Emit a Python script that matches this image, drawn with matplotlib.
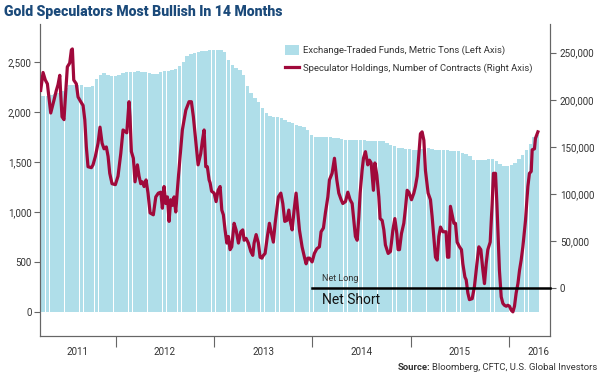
import matplotlib
matplotlib.use('Agg')
import matplotlib.pyplot as plt
from matplotlib.patches import Patch
from matplotlib.lines import Line2D
from matplotlib.ticker import FuncFormatter

# ETF holdings (metric tons), bi-weekly from late March 2011
etf_start = 2011.231
etf_step = 14 / 365.25
etf_tons = [
    2156, 2156, 2165, 2173, 2180, 2195, 2215, 2245, 2268, 2273,
    2273, 2272, 2255, 2252, 2262, 2330, 2370, 2390, 2370, 2356,
    2356, 2375, 2394, 2398, 2402, 2405, 2406, 2400, 2396, 2390,
    2382, 2385, 2398, 2406, 2412, 2420, 2430, 2465, 2505, 2560,
    2578, 2592, 2600, 2608, 2614, 2620, 2623, 2620, 2618, 2600,
    2520, 2470, 2445, 2420, 2370, 2265, 2190, 2142, 2105, 2040,
    1990, 1965, 1952, 1950, 1945, 1925, 1905, 1890, 1875, 1862,
    1848, 1820, 1772, 1752, 1750, 1750, 1750, 1748, 1742, 1736,
    1728, 1723, 1723, 1723, 1723, 1723, 1720, 1712, 1707, 1706,
    1706, 1706, 1695, 1675, 1658, 1642, 1637, 1632, 1628, 1625,
    1624, 1628, 1634, 1640, 1628, 1616, 1616, 1616, 1616, 1613,
    1610, 1606, 1595, 1582, 1565, 1523, 1523, 1523, 1523, 1526,
    1529, 1515, 1485, 1465, 1458, 1468, 1490, 1535, 1575, 1620,
    1685, 1750, 1773,
]
etf_years = [etf_start + i * etf_step for i in range(len(etf_tons))]

# Speculator net holdings (thousand contracts)
spec_years = [
    2011.238, 2011.262, 2011.285, 2011.306, 2011.340, 2011.374, 2011.397, 2011.414, 2011.432, 2011.442,
    2011.455, 2011.475, 2011.489, 2011.509, 2011.533, 2011.550, 2011.560, 2011.574, 2011.600, 2011.618,
    2011.645, 2011.669, 2011.686, 2011.702, 2011.719, 2011.753, 2011.770, 2011.794, 2011.821, 2011.841,
    2011.862, 2011.882, 2011.905, 2011.923, 2011.940, 2011.963, 2011.997, 2012.024, 2012.052, 2012.075,
    2012.113, 2012.136, 2012.146, 2012.160, 2012.180, 2012.197, 2012.221, 2012.238, 2012.255, 2012.271,
    2012.289, 2012.309, 2012.329, 2012.350, 2012.383, 2012.408, 2012.434, 2012.459, 2012.475, 2012.492,
    2012.509, 2012.526, 2012.543, 2012.560, 2012.577, 2012.594, 2012.611, 2012.627, 2012.655, 2012.678,
    2012.713, 2012.746, 2012.770, 2012.790, 2012.814, 2012.838, 2012.865, 2012.882, 2012.899, 2012.916,
    2012.932, 2012.950, 2012.960, 2012.975, 2013.001, 2013.021, 2013.041, 2013.062, 2013.079, 2013.095,
    2013.112, 2013.130, 2013.146, 2013.163, 2013.180, 2013.204, 2013.224, 2013.248, 2013.272, 2013.292,
    2013.306, 2013.326, 2013.349, 2013.374, 2013.394, 2013.407, 2013.428, 2013.451, 2013.468, 2013.486,
    2013.502, 2013.519, 2013.542, 2013.563, 2013.580, 2013.603, 2013.621, 2013.638, 2013.654, 2013.679,
    2013.699, 2013.719, 2013.740, 2013.760, 2013.773, 2013.794, 2013.814, 2013.834, 2013.868, 2013.895,
    2013.919, 2013.936, 2013.953, 2013.970, 2013.997, 2014.020, 2014.045, 2014.071, 2014.088, 2014.112,
    2014.132, 2014.157, 2014.173, 2014.200, 2014.224, 2014.248, 2014.268, 2014.292, 2014.309, 2014.336,
    2014.360, 2014.383, 2014.404, 2014.417, 2014.437, 2014.455, 2014.472, 2014.485, 2014.505, 2014.519,
    2014.539, 2014.563, 2014.580, 2014.597, 2014.620, 2014.635, 2014.655, 2014.675, 2014.688, 2014.709,
    2014.726, 2014.742, 2014.770, 2014.793, 2014.818, 2014.838, 2014.858, 2014.871, 2014.885, 2014.905,
    2014.929, 2014.946, 2014.963, 2014.980, 2015.007, 2015.031, 2015.047, 2015.065, 2015.082, 2015.098,
    2015.115, 2015.133, 2015.149, 2015.176, 2015.200, 2015.217, 2015.234, 2015.251, 2015.268, 2015.285,
    2015.302, 2015.326, 2015.346, 2015.359, 2015.373, 2015.387, 2015.403, 2015.420, 2015.438, 2015.454,
    2015.471, 2015.495, 2015.515, 2015.529, 2015.550, 2015.563, 2015.580, 2015.596, 2015.624, 2015.647,
    2015.672, 2015.692, 2015.712, 2015.733, 2015.749, 2015.766, 2015.783, 2015.807, 2015.827, 2015.840,
    2015.861, 2015.875, 2015.888, 2015.901, 2015.919, 2015.936, 2015.952, 2015.970, 2015.987, 2016.003,
    2016.020, 2016.038, 2016.054, 2016.071, 2016.089, 2016.105, 2016.122, 2016.139, 2016.166, 2016.190,
    2016.206, 2016.224, 2016.234, 2016.257, 2016.267, 2016.292,
]
spec_k = [
    210, 229, 221, 217, 186, 200, 210, 216, 226, 205,
    182, 179, 203, 235, 239, 253, 254, 221, 217, 203,
    198, 194, 179, 150, 129, 128, 131, 140, 154, 171,
    154, 148, 150, 140, 122, 111, 110, 119, 143, 168,
    165, 198, 182, 145, 138, 113, 131, 119, 111, 113,
    108, 115, 101, 80, 78, 97, 101, 102, 85, 108,
    90, 97, 71, 94, 88, 97, 81, 104, 140, 168,
    189, 198, 198, 182, 157, 131, 143, 157, 168, 129,
    129, 115, 112, 103, 101, 92, 104, 108, 83, 78,
    62, 48, 55, 41, 44, 69, 62, 48, 60, 62,
    51, 53, 48, 39, 35, 48, 57, 48, 33, 32,
    35, 37, 55, 69, 60, 49, 69, 83, 97, 101,
    90, 71, 72, 83, 72, 62, 83, 101, 62, 44,
    33, 26, 32, 32, 28, 37, 42, 44, 60, 64,
    80, 97, 115, 122, 138, 115, 101, 94, 90, 92,
    102, 94, 90, 76, 55, 51, 76, 101, 125, 138,
    145, 131, 136, 133, 104, 133, 120, 97, 74, 72,
    62, 46, 37, 39, 62, 74, 58, 41, 41, 58,
    69, 85, 104, 102, 94, 101, 108, 119, 143, 164,
    166, 157, 125, 101, 94, 76, 55, 33, 30, 55,
    65, 60, 60, 60, 33, 33, 87, 78, 69, 69,
    49, 44, 41, 26, 12, 9, -5, -12, -11, 2,
    26, 44, 41, 19, 5, 26, 41, 49, 90, 122,
    122, 90, 55, 19, -9, -16, -18, -19, -18, -19,
    -23, -25, -19, -5, 5, 19, 30, 44, 72, 108,
    122, 124, 147, 148, 159, 166,
]
spec_contracts = [v * 1000 for v in spec_k]

year_bounds = [2012, 2013, 2014, 2015, 2016]
year_labels = ['2011', '2012', '2013', '2014', '2015', '2016']
year_label_pos = [2011.615, 2012.5, 2013.5, 2014.5, 2015.5, 2016.3]

bar_color = '#afdee9'
line_color = '#a0093b'
text_color = '#333333'
spine_color = '#666666'

plt.rcParams['font.family'] = ['Roboto', 'DejaVu Sans']


def fit_width(txt, width_px):
    # shrink/grow a text so it spans the given pixel width
    fig.canvas.draw()
    w = txt.get_window_extent().width
    txt.set_fontsize(txt.get_fontsize() * width_px / w)


fig = plt.figure(figsize=(6, 3.8), dpi=100)
ax = fig.add_axes([40 / 600, 1 - 336 / 380, 510 / 600, 312 / 380])
ax2 = ax.twinx()

ax.bar(etf_years, etf_tons, width=etf_step * 0.9, align='center', color=bar_color, linewidth=0)
ax.set_ylim(-240, 2880)
ax.set_xlim(2011.231, 2016.415)
ax.set_yticks([0, 500, 1000, 1500, 2000, 2500])
ax.yaxis.set_major_formatter(FuncFormatter(lambda v, p: f'{int(v):,}'))

ax2.plot(spec_years, spec_contracts, color=line_color, linewidth=2.3, solid_joinstyle='round', zorder=3)
ax2.set_ylim(-50600, 280450)
ax2.set_yticks([0, 50000, 100000, 150000, 200000, 250000])
ax2.yaxis.set_major_formatter(FuncFormatter(lambda v, p: f'{int(v):,}'))

# net long / net short divider
ax2.plot([2014.0, 2016.415], [0, 0], color='black', linewidth=1.8, zorder=4, clip_on=False)
ax2.text(2014.1, 6000, 'Net Long', fontsize=6.5, color=text_color, va='bottom', ha='left')
ax2.text(2014.1, -4500, 'Net Short', fontsize=10, color='#111111', va='top', ha='left')

# x axis: ticks at year boundaries, labels centred between them
ax.set_xticks(year_bounds)
ax.set_xticklabels([])
ax.set_xticks(year_label_pos, minor=True)
ax.set_xticklabels(year_labels, minor=True)
ax.tick_params(axis='x', which='major', length=8, width=0.8, color=spine_color, direction='out')
ax.tick_params(axis='x', which='minor', length=0, pad=8, labelsize=7, labelcolor=text_color)

for a in (ax, ax2):
    a.spines['top'].set_visible(False)
    for s in ('left', 'right', 'bottom'):
        a.spines[s].set_color(spine_color)
        a.spines[s].set_linewidth(0.8)
ax.tick_params(axis='y', length=4, width=0.8, color=spine_color, labelsize=7, labelcolor=text_color, pad=2)
ax2.tick_params(axis='y', length=4, width=0.8, color=spine_color, labelsize=7, labelcolor=text_color, pad=3)

handles = [Patch(facecolor=bar_color, edgecolor='none'),
           Line2D([0], [0], color=line_color, linewidth=2.3)]
labels = ['Exchange-Traded Funds, Metric Tons (Left Axis)',
          'Speculator Holdings, Number of Contracts (Right Axis)']
leg = ax2.legend(handles, labels, loc='upper left', bbox_to_anchor=(276 / 600, 1 - 36 / 380),
                 bbox_transform=fig.transFigure, frameon=False, fontsize=6.8,
                 handlelength=1.5, handleheight=1.3, handletextpad=0.5, labelspacing=0.8)
for t in leg.get_texts():
    t.set_color(text_color)

title = fig.text(4 / 600, 1 - 12 / 380, 'Gold Speculators Most Bullish In 14 Months', fontsize=11,
                 fontweight='heavy', color='#1b4a7a', va='center', ha='left')
fit_width(title, 279)

src = fig.text(597 / 600, 1 - 367 / 380, 'Bloomberg, CFTC, U.S. Global Investors', fontsize=6.8,
               color=text_color, va='center', ha='right')
fig.canvas.draw()
bb = src.get_window_extent()
fig.text(bb.x0 / 600 - 0.003, 1 - 367 / 380, 'Source:', fontsize=6.8, fontweight='bold',
         color=text_color, va='center', ha='right')

fig.savefig('out.png', dpi=100)
